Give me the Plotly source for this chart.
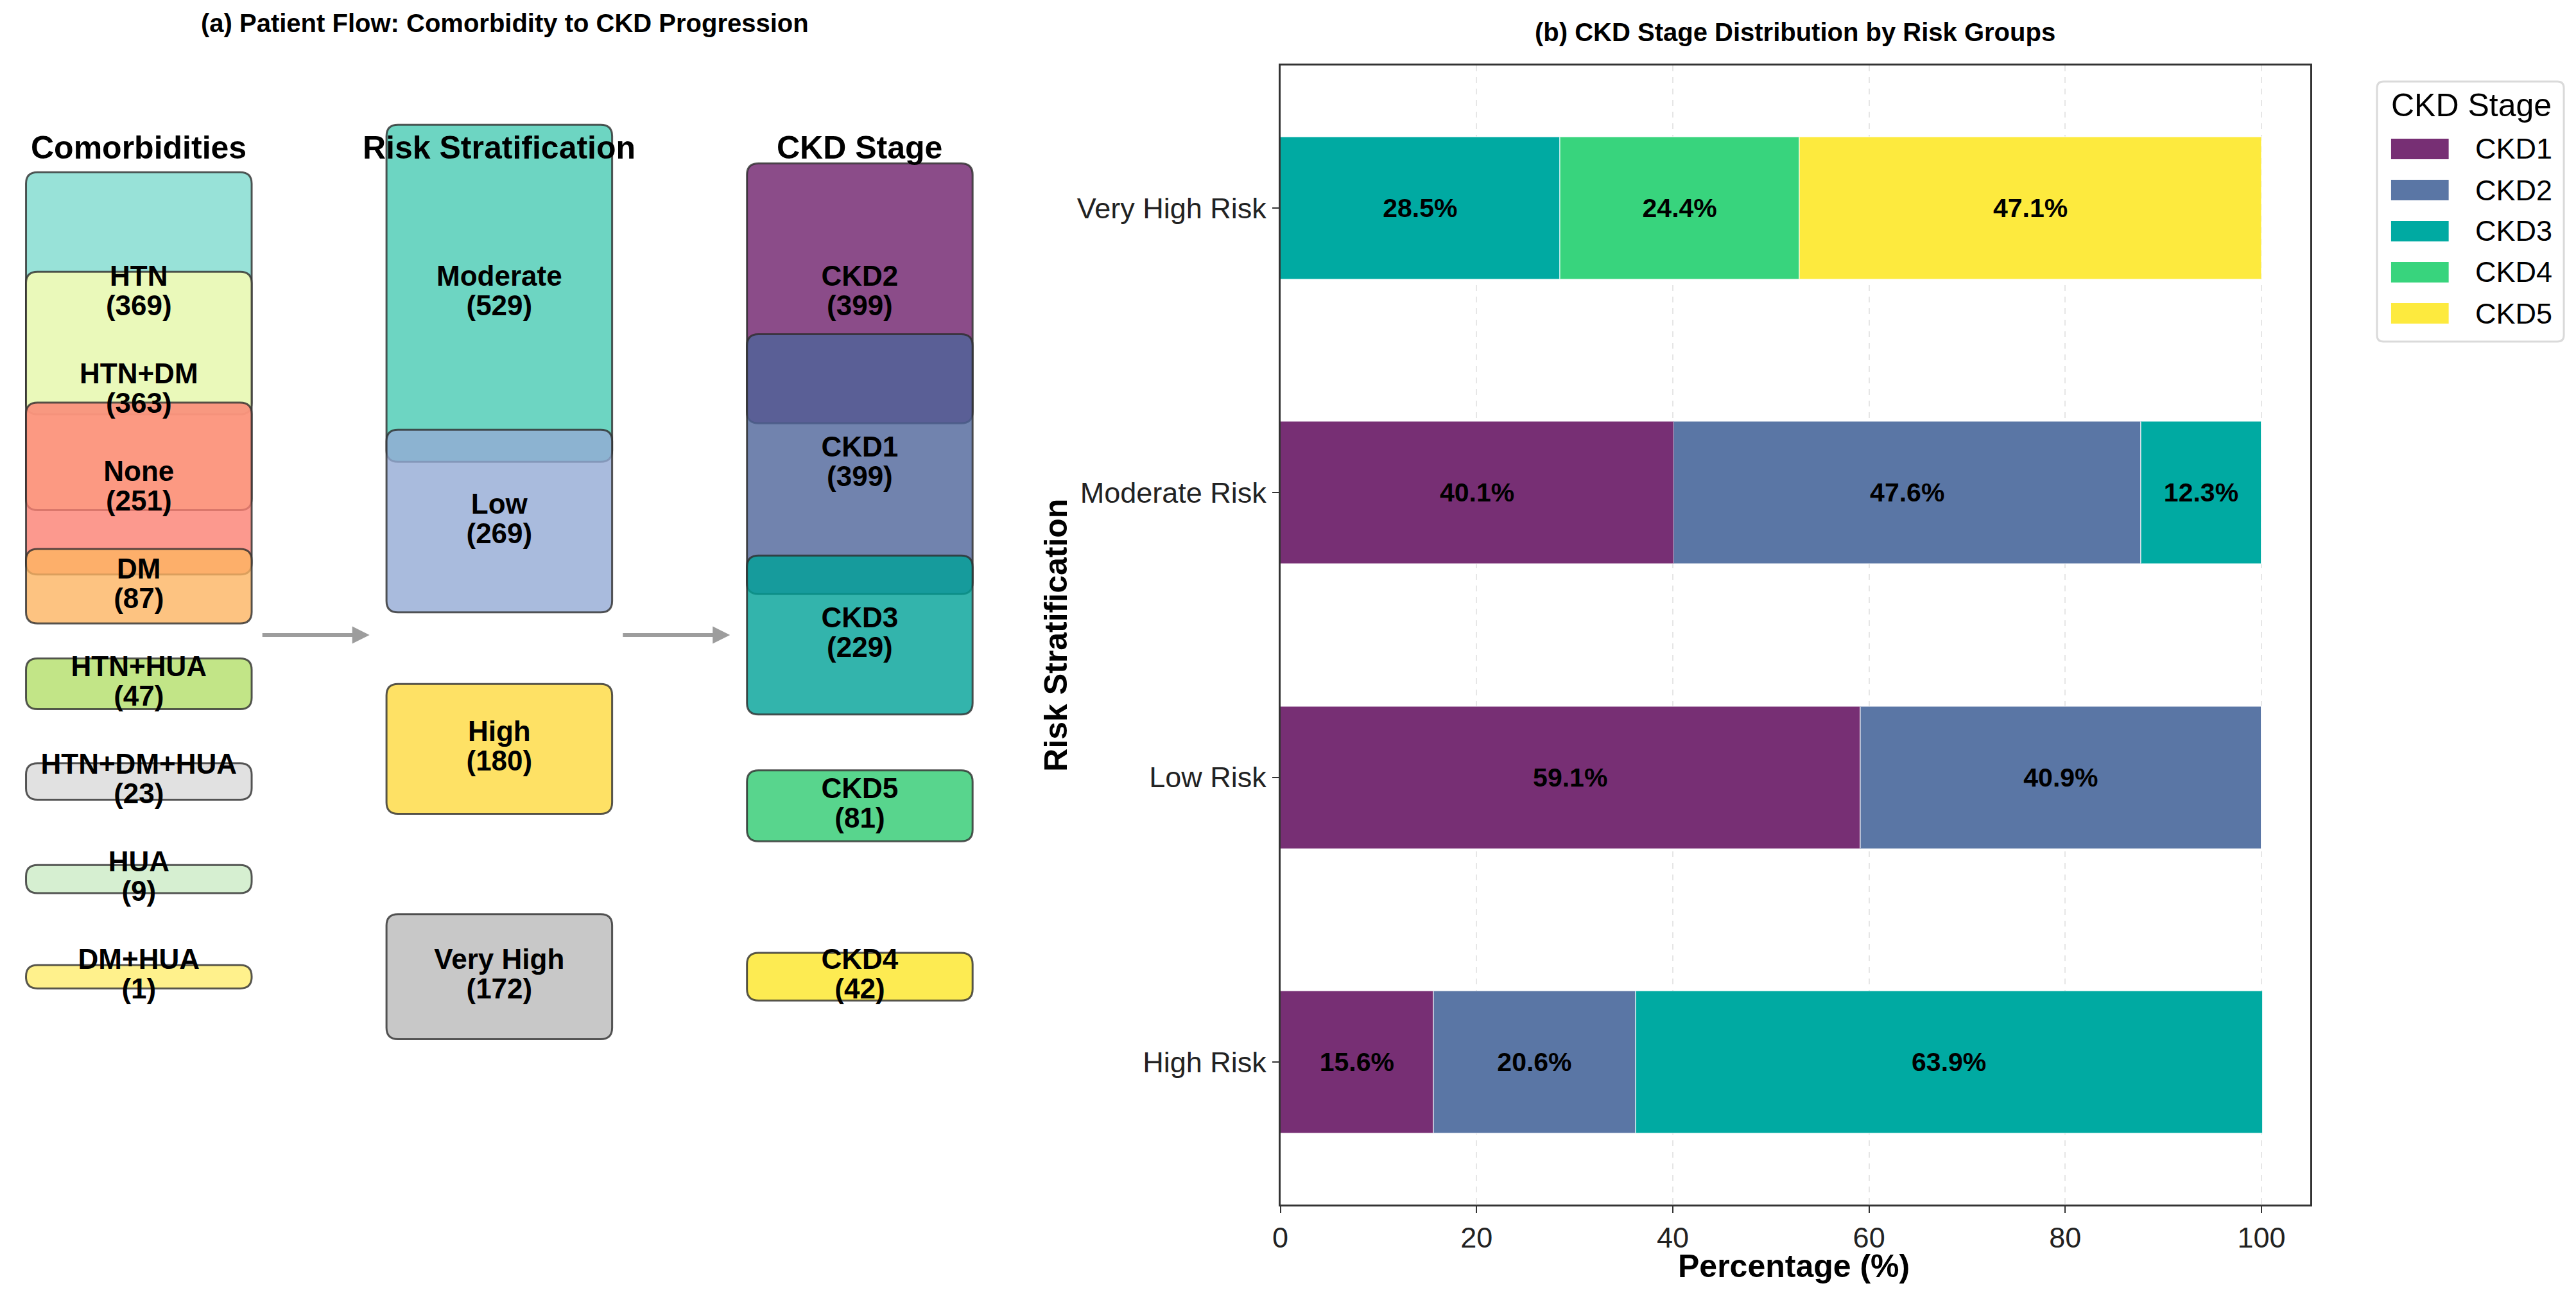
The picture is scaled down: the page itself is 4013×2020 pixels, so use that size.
import numpy as np
import plotly.graph_objects as go

# ---- data: patient flow (left panel) ----
comorb_labels = ["HTN", "HTN+DM", "None", "DM", "HTN+HUA", "HTN+DM+HUA", "HUA", "DM+HUA"]
comorb_counts = [369, 363, 251, 87, 47, 23, 9, 1]
risk_labels = ["Moderate", "Low", "High", "Very High"]
risk_counts = [529, 269, 180, 172]
stage_labels = ["CKD2", "CKD1", "CKD3", "CKD5", "CKD4"]
stage_counts = [399, 399, 229, 81, 42]
column_titles = ["Comorbidities", "Risk Stratification", "CKD Stage"]

# ---- data: stage distribution (right panel) ----
risk_groups = ["High Risk", "Low Risk", "Moderate Risk", "Very High Risk"]
ckd_stages = ["CKD1", "CKD2", "CKD3", "CKD4", "CKD5"]
ckd1_pct = [15.6, 59.1, 40.1, 0]
ckd2_pct = [20.6, 40.9, 47.6, 0]
ckd3_pct = [63.9, 0, 12.3, 28.5]
ckd4_pct = [0, 0, 0, 24.4]
ckd5_pct = [0, 0, 0, 47.1]

FONT = "Liberation Sans, Arial, sans-serif"
BOX_ALPHA = 0.8
W, H = 4013, 2020

# box colours (drawn with alpha so overlaps blend)
comorb_colors = ["#7edbce", "#ffffb3", "#fb8072", "#fdb462",
                 "#b3de69", "#d9d9d9", "#ccebc5", "#ffed6f"]
risk_colors = ["#48cab3", "#93aad4", "#fed93e", "#bababa"]
stage_box_colors = ["#6e1f6b", "#4d649a", "#00a197", "#2ecb70", "#fce627"]
bar_colors = ["#772f74", "#5a76a5", "#00aaa2", "#38d47d", "#fdea3e"]


def rgba(hex_color, a):
    h = hex_color.lstrip("#")
    r, g, b = int(h[0:2], 16), int(h[2:4], 16), int(h[4:6], 16)
    return f"rgba({r},{g},{b},{a})"


def rounded_box(xc, yc, w, h, rx=0.032, ry=0.1):
    x0, x1 = xc - w / 2, xc + w / 2
    y0, y1 = yc - h / 2, yc + h / 2
    ry = min(ry, h / 2)
    return (f"M {x0+rx},{y0} L {x1-rx},{y0} Q {x1},{y0} {x1},{y0+ry} "
            f"L {x1},{y1-ry} Q {x1},{y1} {x1-rx},{y1} L {x0+rx},{y1} "
            f"Q {x0},{y1} {x0},{y1-ry} L {x0},{y0+ry} Q {x0},{y0} {x0+rx},{y0} Z")


fig = go.Figure()

# ---- right panel: stacked horizontal bars ----
for stage, vals, col in zip(ckd_stages, [ckd1_pct, ckd2_pct, ckd3_pct, ckd4_pct, ckd5_pct], bar_colors):
    fig.add_trace(go.Bar(
        y=risk_groups, x=vals, name=stage, orientation="h", width=0.5,
        marker=dict(color=col, line=dict(color="rgba(255,255,255,0.5)", width=1.5)),
        text=[f"{v:.1f}%" if v > 0 else "" for v in vals],
        textposition="inside", insidetextanchor="middle", textangle=0,
        textfont=dict(family=FONT, size=41, color="black", weight="bold"),
        hoverinfo="skip", showlegend=False,
    ))

# ---- left panel: flow boxes ----
shapes = []
lab_x, lab_y, lab_name, lab_count = [], [], [], []
columns = [(comorb_labels, comorb_counts, comorb_colors),
           (risk_labels, risk_counts, risk_colors),
           (stage_labels, stage_counts, stage_box_colors)]
box_w = 0.626
for ci, (labels, counts, colors) in enumerate(columns):
    total = sum(counts)
    ys = np.linspace(8, 2, len(counts))
    for lab, cnt, col, yc in zip(labels, counts, colors, ys):
        h = 0.2 + 6 * cnt / total
        shapes.append(dict(
            type="path", path=rounded_box(ci, yc, box_w, h), xref="x2", yref="y2",
            fillcolor=rgba(col, BOX_ALPHA), line=dict(color="rgba(45,45,45,0.8)", width=3),
            layer="below",
        ))
        lab_x.append(ci)
        lab_y.append(yc)
        lab_name.append(lab)
        lab_count.append(f"({cnt})")

line_off = 0.13
for txt, dy in [(lab_name, line_off), (lab_count, -line_off)]:
    fig.add_trace(go.Scatter(
        x=lab_x, y=[v + dy for v in lab_y], text=txt, mode="text", xaxis="x2", yaxis="y2",
        textposition="middle center", showlegend=False, hoverinfo="skip",
        textfont=dict(family=FONT, size=44, color="black", weight="bold"),
    ))

annotations = []
for ci, t in enumerate(column_titles):
    annotations.append(dict(x=ci, y=9.28, xref="x2", yref="y2", text=t, showarrow=False,
                            xanchor="center", yanchor="middle",
                            font=dict(family=FONT, size=50, color="black", weight="bold")))
for ci in range(2):
    annotations.append(dict(x=ci + 0.64, y=5, ax=ci + 0.34, ay=5, xref="x2", yref="y2",
                            axref="x2", ayref="y2", text="", showarrow=True,
                            arrowhead=2, arrowsize=0.9, arrowwidth=6,
                            arrowcolor="rgba(140,140,140,0.85)"))

annotations += [
    dict(x=776 / W, y=1 - 36 / H, xref="paper", yref="paper", showarrow=False,
         xanchor="center", yanchor="middle",
         text="(a) Patient Flow: Comorbidity to CKD Progression",
         font=dict(family=FONT, size=40, color="black", weight="bold")),
    dict(x=2793 / W, y=1 - 50 / H, xref="paper", yref="paper", showarrow=False,
         xanchor="center", yanchor="middle",
         text="(b) CKD Stage Distribution by Risk Groups",
         font=dict(family=FONT, size=40, color="black", weight="bold")),
    dict(x=2791 / W, y=1 - 1972 / H, xref="paper", yref="paper", showarrow=False,
         xanchor="center", yanchor="middle",
         text="Percentage (%)",
         font=dict(family=FONT, size=50, color="black", weight="bold")),
    dict(x=1637 / W, y=1 - 989 / H, xref="paper", yref="paper", showarrow=False,
         xanchor="center", yanchor="middle",
         text="Risk Stratification", textangle=-90,
         font=dict(family=FONT, size=50, color="black", weight="bold")),
]

# ---- legend (drawn by hand for wide swatches) ----
lg_x0, lg_x1, lg_y0, lg_y1 = 3702 / W, 3994 / W, 1 - 532 / H, 1 - 127 / H
rx, ry = 10 / W, 10 / H
shapes.append(dict(
    type="path", xref="paper", yref="paper",
    path=(f"M {lg_x0+rx},{lg_y0} L {lg_x1-rx},{lg_y0} Q {lg_x1},{lg_y0} {lg_x1},{lg_y0+ry} "
          f"L {lg_x1},{lg_y1-ry} Q {lg_x1},{lg_y1} {lg_x1-rx},{lg_y1} L {lg_x0+rx},{lg_y1} "
          f"Q {lg_x0},{lg_y1} {lg_x0},{lg_y1-ry} L {lg_x0},{lg_y0+ry} Q {lg_x0},{lg_y0} {lg_x0+rx},{lg_y0} Z"),
    fillcolor="rgba(255,255,255,0.8)", line=dict(color="#dadada", width=3), layer="above",
))
annotations.append(dict(x=3722 / W, y=1 - 164 / H, xref="paper", yref="paper", showarrow=False,
                        xanchor="left", yanchor="middle", text="CKD Stage",
                        font=dict(family=FONT, size=50, color="black")))
for i, (stage, col) in enumerate(zip(ckd_stages, bar_colors)):
    yc = 232 + 64 * i
    shapes.append(dict(type="rect", xref="paper", yref="paper",
                       x0=3724 / W, x1=3814 / W, y0=1 - (yc + 16) / H, y1=1 - (yc - 16) / H,
                       fillcolor=col, line=dict(width=0), layer="above"))
    annotations.append(dict(x=3853 / W, y=1 - yc / H, xref="paper", yref="paper", showarrow=False,
                            xanchor="left", yanchor="middle", text=stage,
                            font=dict(family=FONT, size=45, color="black")))

fig.update_layout(
    width=W, height=H,
    margin=dict(l=0, r=0, t=0, b=0),
    paper_bgcolor="white", plot_bgcolor="white",
    barmode="stack", showlegend=False,
    shapes=shapes, annotations=annotations,
    font=dict(family=FONT, color="#222222"),
    xaxis=dict(domain=[0.4954, 0.8966], range=[0, 105], tickvals=[0, 20, 40, 60, 80, 100],
               showgrid=True, griddash="dash", gridcolor="rgba(200,200,200,0.45)", gridwidth=2,
               zeroline=False, showline=True, linecolor="#333333", linewidth=2.5, mirror=True,
               ticks="outside", ticklen=10, tickwidth=2, tickcolor="#333333",
               tickfont=dict(size=45), layer="above traces"),
    yaxis=dict(domain=[0.0713, 0.9495], range=[-0.5, 3.5], categoryorder="array",
               categoryarray=risk_groups, showgrid=False, zeroline=False,
               showline=True, linecolor="#333333", linewidth=2.5, mirror=True,
               ticks="outside", ticklen=10, tickwidth=2, tickcolor="#333333",
               tickfont=dict(size=45)),
    xaxis2=dict(domain=[0, 0.3872], range=[-0.362, 2.396], visible=False),
    yaxis2=dict(domain=[0.0713, 0.9495], range=[0, 10], visible=False),
)

fig.write_html("out.html", config={"displayModeBar": False},
               post_script="document.body.style.margin='0px';")
